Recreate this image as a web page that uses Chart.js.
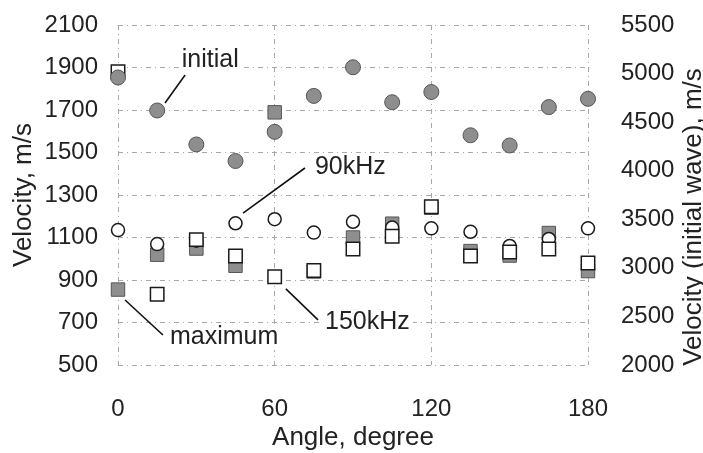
<!DOCTYPE html>
<html>
<head>
<meta charset="utf-8">
<script src="https://cdn.jsdelivr.net/npm/chart.js@4.4.1/dist/chart.umd.min.js"></script>
<style>
  html, body { margin: 0; padding: 0; background: #ffffff; }
  #wrap { width: 703px; height: 453px; }
</style>
</head>
<body>
<div id="wrap"><canvas id="chart" width="703" height="453"></canvas></div>
<script>
// Propagation angle of each measurement, degree
const angles = [0, 15, 30, 45, 60, 75, 90, 105, 120, 135, 150, 165, 180];

// Velocity of the initial wave (right axis), m/s
const initialWave = [4960, 4620, 4270, 4100, 4400, 4770, 5065, 4705, 4810, 4365, 4260, 4655, 4740];
// Velocity at 90 kHz (left axis), m/s
const khz90 = [1135, 1069, 1085, 1167, 1186, 1123, 1174, 1147, 1143, 1127, 1060, 1093, 1143];
// Velocity at 150 kHz (left axis), m/s
const khz150 = [1880, 833, 1090, 1013, 915, 945, 1046, 1106, 1245, 1013, 1032, 1046, 980];
// Velocity of the maximum (left axis), m/s
const maximum = [855, 1019, 1048, 967, 1689, 940, 1100, 1165, 1240, 1036, 1015, 1121, 942];

// Axis ranges and tick steps
const angleTicks = [0, 180, 60];
const leftTicks = [500, 2100, 200];
const rightTicks = [2000, 5500, 500];

// Callout labels: leader line (angle, left-axis velocity) and label anchor
const callouts = [
  { label: 'initial', from: [18.0, 1733], to: [25.7, 1865], at: [24.4, 1935] },
  { label: '90kHz',   from: [47.9, 1215], to: [71.6, 1427], at: [75.4, 1432] },
  { label: 'maximum', from: [2.7, 806],   to: [17.2, 641],  at: [19.9, 632] },
  { label: '150kHz',  from: [64.3, 858],  to: [76.6, 712],  at: [79.3, 702] }
];

const TEXT = '#222222';
const FONT = '"Liberation Sans", Arial, sans-serif';
const GRAY_FILL = '#8e8e8e';
const GRAY_EDGE = '#555555';
const GRID_DASH = [5, 4, 1, 4];

const pts = vals => angles.map((a, i) => ({ x: a, y: vals[i] }));

const calloutFont = '25px ' + FONT;

const calloutPlugin = {
  id: 'callouts',
  beforeDatasetsDraw(chart) {
    // clear the grid behind each label
    const { ctx, scales: { x, y } } = chart;
    ctx.save();
    ctx.font = calloutFont;
    ctx.fillStyle = '#ffffff';
    callouts.forEach(c => {
      const px = x.getPixelForValue(c.at[0]);
      const py = y.getPixelForValue(c.at[1]);
      const w = ctx.measureText(c.label).width;
      ctx.fillRect(px - 3, py - 13, w + 6, 26);
    });
    ctx.restore();
  },
  afterDatasetsDraw(chart) {
    const { ctx, scales: { x, y } } = chart;
    ctx.save();
    ctx.strokeStyle = '#111111';
    ctx.lineWidth = 1.6;
    ctx.fillStyle = TEXT;
    ctx.font = calloutFont;
    ctx.textAlign = 'left';
    ctx.textBaseline = 'middle';
    callouts.forEach(c => {
      ctx.beginPath();
      ctx.moveTo(x.getPixelForValue(c.from[0]), y.getPixelForValue(c.from[1]));
      ctx.lineTo(x.getPixelForValue(c.to[0]), y.getPixelForValue(c.to[1]));
      ctx.stroke();
      ctx.fillText(c.label, x.getPixelForValue(c.at[0]), y.getPixelForValue(c.at[1]));
    });
    ctx.restore();
  },
  afterDraw(chart) {
    // right axis title, reading bottom to top
    const { ctx, chartArea } = chart;
    const y2 = chart.scales.y2;
    ctx.save();
    ctx.font = '26px ' + FONT;
    ctx.fillStyle = TEXT;
    ctx.textAlign = 'center';
    ctx.textBaseline = 'alphabetic';
    ctx.translate(y2.right - 2, (chartArea.top + chartArea.bottom) / 2 + 22);
    ctx.rotate(-Math.PI / 2);
    ctx.fillText('Velocity (initial wave), m/s', 0, 0);
    ctx.restore();
  }
};

const plainTick = v => String(v);

// fixed axis widths; tick labels may overhang the plot edges
const fixVertical = w => s => { s.width = w; s.paddingTop = 0; s.paddingBottom = 0; };

new Chart(document.getElementById('chart'), {
  type: 'scatter',
  plugins: [calloutPlugin],
  data: {
    datasets: [
      {
        label: 'initial',
        data: pts(initialWave),
        yAxisID: 'y2',
        pointStyle: 'circle',
        pointRadius: 7.5,
        backgroundColor: GRAY_FILL,
        borderColor: GRAY_EDGE,
        borderWidth: 1,
        clip: false
      },
      {
        label: '150kHz',
        data: pts(khz150),
        yAxisID: 'y',
        pointStyle: 'rect',
        pointRadius: 9.5,
        backgroundColor: '#ffffff',
        borderColor: '#1a1a1a',
        borderWidth: 1.5,
        clip: false
      },
      {
        label: '90kHz',
        data: pts(khz90),
        yAxisID: 'y',
        pointStyle: 'circle',
        pointRadius: 6.5,
        backgroundColor: '#ffffff',
        borderColor: '#1a1a1a',
        borderWidth: 1.5,
        clip: false
      },
      {
        label: 'maximum',
        data: pts(maximum),
        yAxisID: 'y',
        pointStyle: 'rect',
        pointRadius: 9.5,
        backgroundColor: GRAY_FILL,
        borderColor: GRAY_EDGE,
        borderWidth: 1,
        clip: false
      }
    ]
  },
  options: {
    responsive: false,
    animation: false,
    devicePixelRatio: 1,
    layout: { padding: { top: 25, left: 0, right: 0, bottom: 0 } },
    plugins: {
      legend: { display: false },
      tooltip: { enabled: false }
    },
    scales: {
      x: {
        type: 'linear',
        min: angleTicks[0],
        max: angleTicks[1],
        afterFit: s => { s.height = 88; s.paddingLeft = 0; s.paddingRight = 0; },
        ticks: {
          stepSize: angleTicks[2],
          padding: 30,
          color: TEXT,
          callback: plainTick,
          font: { family: FONT, size: 24 }
        },
        grid: { color: '#a8a8a8', lineWidth: 1, drawTicks: false },
        border: { display: false, dash: GRID_DASH },
        title: {
          display: true,
          text: 'Angle, degree',
          color: TEXT,
          font: { family: FONT, size: 26 },
          padding: { top: 0, bottom: 0 }
        }
      },
      y: {
        type: 'linear',
        position: 'left',
        min: leftTicks[0],
        max: leftTicks[1],
        afterFit: fixVertical(118),
        ticks: {
          stepSize: leftTicks[2],
          padding: 20,
          color: TEXT,
          callback: plainTick,
          font: { family: FONT, size: 24 }
        },
        grid: { color: '#a8a8a8', lineWidth: 1, drawTicks: false },
        border: { display: false, dash: GRID_DASH },
        title: {
          display: true,
          text: 'Velocity, m/s',
          color: TEXT,
          font: { family: FONT, size: 26 },
          padding: { top: 8, bottom: 0 }
        }
      },
      y2: {
        type: 'linear',
        position: 'right',
        min: rightTicks[0],
        max: rightTicks[1],
        afterFit: fixVertical(115),
        ticks: {
          stepSize: rightTicks[2],
          padding: 25,
          color: TEXT,
          callback: plainTick,
          font: { family: FONT, size: 24 }
        },
        grid: { display: false, drawOnChartArea: false },
        border: { display: false }
      }
    }
  }
});
</script>
</body>
</html>
